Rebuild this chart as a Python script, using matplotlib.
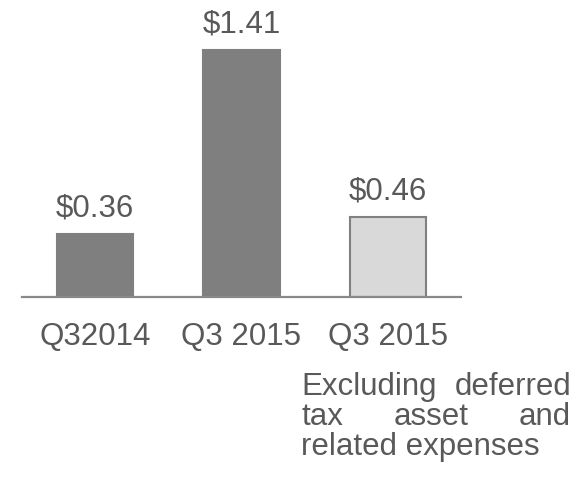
import matplotlib
matplotlib.use('Agg')
import matplotlib.pyplot as plt

# Datos del gráfico
categorias = ['Q32014', 'Q3 2015', 'Q3 2015']
valores = [0.36, 1.41, 0.46]
etiquetas = ['$0.36', '$1.41', '$0.46']
nota = [['Excluding', 'deferred'], ['tax', 'asset', 'and'], ['related expenses']]

plt.rcParams['font.family'] = ['Liberation Sans', 'DejaVu Sans']
gris_texto = '#595959'
fs = 22.5

W, H = 582, 479
fig = plt.figure(figsize=(W / 100, H / 100), dpi=100)
ax = fig.add_axes([22 / W, 182 / H, 439 / W, 297 / H])

colores = ['#7f7f7f', '#7f7f7f', '#d9d9d9']
bordes = ['#7f7f7f', '#7f7f7f', '#808080']
x = range(len(valores))
barras = ax.bar(x, valores, width=0.52, color=colores, edgecolor=bordes, linewidth=1.5)

# Etiquetas de valor sobre cada barra
for i, v in enumerate(valores):
    ax.annotate(etiquetas[i].replace('$', r'\$'), (i, v), xytext=(0, 12.5), textcoords='offset points',
                ha='center', va='baseline', fontsize=fs, color=gris_texto)

ax.set_xlim(-0.5, 2.5)
ax.set_ylim(0, 297 / 175)
ax.axhline(0, color='#898989', linewidth=1.6, clip_on=False)
for s in ax.spines.values():
    s.set_visible(False)
ax.set_yticks([])
ax.set_xticks(list(x))
ax.set_xticklabels(categorias, fontsize=fs, color=gris_texto)
ax.tick_params(axis='x', length=0, pad=18)

# Nota justificada bajo la tercera categoría
fig.canvas.draw()
r = fig.canvas.get_renderer()
izq, der = 301, 571
bases = [395, 425, 455]
for linea, yb in zip(nota, bases):
    yf = 1 - yb / H
    if len(linea) == 1:
        fig.text(izq / W, yf, linea[0], fontsize=fs, color=gris_texto, va='baseline', ha='left')
        continue
    txts = [fig.text(0, yf, p, fontsize=fs, color=gris_texto, va='baseline', ha='left') for p in linea]
    anchos = [t.get_window_extent(r).width for t in txts]
    hueco = (der - izq - sum(anchos)) / (len(linea) - 1)
    xp = izq
    for t, a in zip(txts, anchos):
        t.set_x(xp / W)
        xp += a + hueco

fig.savefig('out.png', dpi=100)
